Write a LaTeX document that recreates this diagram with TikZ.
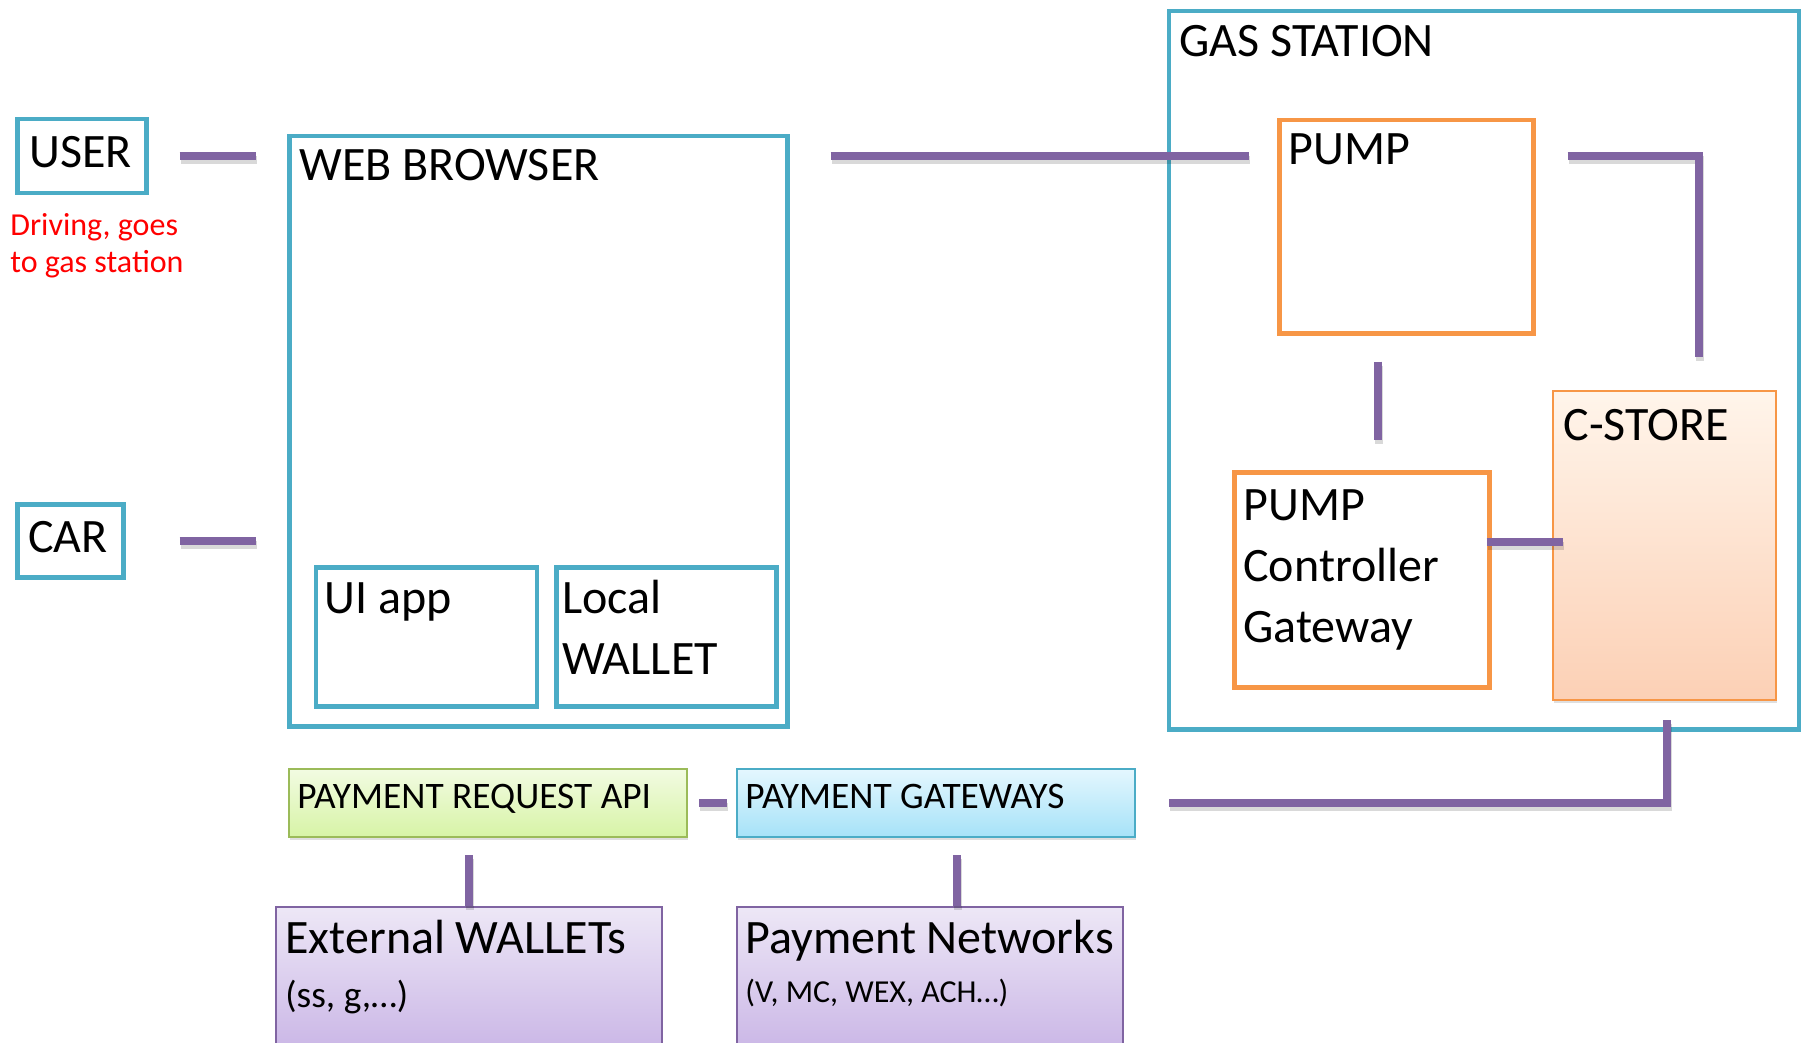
\documentclass[tikz,border=0pt]{standalone}
\usepackage{fontspec}
\setmainfont{Carlito}
\usetikzlibrary{shadows}

\definecolor{tealline}{HTML}{4BACC6}
\definecolor{orangeline}{HTML}{F79646}
\definecolor{linkpurple}{HTML}{8064A2}
\definecolor{greenline}{HTML}{9BBB59}

\tikzset{
  frame/.style={draw=tealline, line width=2.25pt, anchor=north west, inner sep=0pt},
  pumpbox/.style={draw=orangeline, line width=2.25pt, anchor=north west, inner sep=0pt},
  flatbox/.style={line width=1pt, anchor=north west, inner sep=0pt},
  boxshadow/.style={drop shadow={opacity=0.25, shadow xshift=0.5pt, shadow yshift=-1.5pt}},
  lbl/.style={anchor=base west, inner sep=0pt, align=left, font=\fontsize{24}{30.5}\selectfont},
  smalllbl/.style={lbl, font=\fontsize{18.7}{22}\selectfont},
  note/.style={lbl, text=red, font=\fontsize{16}{18}\selectfont},
  link/.style={draw=linkpurple, line width=4pt,
    preaction={draw=black, opacity=0.15, line width=4pt, transform canvas={xshift=0.5pt,yshift=-2pt}}},
}

\begin{document}
\begin{tikzpicture}[x=0.5pt,y=-0.5pt]
    \useasboundingbox (0,0) rectangle (1804,1043);
    \clip (0,0) rectangle (1804,1043);

    % left side
    \node[frame, minimum width=64.5pt, minimum height=37pt] (user) at (15,117) {};
    \node[frame, minimum width=53pt, minimum height=36.5pt] (car) at (15,502) {};
    \node[frame, minimum width=249pt, minimum height=295pt] (web) at (287,134) {};
    \node[frame, minimum width=110.5pt, minimum height=69.5pt] (uiapp) at (313.5,565) {};
    \node[frame, minimum width=110pt, minimum height=69.5pt] (wallet) at (554,565) {};

    % gas station
    \node[frame, minimum width=315pt, minimum height=359pt] (gas) at (1166.5,9) {};
    \node[pumpbox, minimum width=127pt, minimum height=106.5pt] (pump) at (1277,118) {};
    \node[pumpbox, minimum width=127.5pt, minimum height=107.5pt] (ctrl) at (1232,470) {};
    \node[flatbox, boxshadow, draw=orangeline, top color=orange!8, bottom color={rgb,255:red,252;green,208;blue,181},
          minimum width=111.5pt, minimum height=154.5pt] (cstore) at (1552,390) {};

    % payment side
    \node[flatbox, boxshadow, draw=greenline, top color={rgb,255:red,242;green,251;blue,226}, bottom color={rgb,255:red,215;green,244;blue,166},
          minimum width=199pt, minimum height=34pt] (pra) at (288,768) {};
    \node[flatbox, boxshadow, draw=tealline, top color={rgb,255:red,228;green,247;blue,254}, bottom color={rgb,255:red,166;green,226;blue,248},
          minimum width=199pt, minimum height=34pt] (pg) at (736,768) {};
    \node[flatbox, draw=linkpurple, top color={rgb,255:red,237;green,231;blue,246}, bottom color={rgb,255:red,195;green,172;blue,227},
          minimum width=193pt, minimum height=87pt] (ext) at (275,906) {};
    \node[flatbox, draw=linkpurple, top color={rgb,255:red,237;green,231;blue,246}, bottom color={rgb,255:red,195;green,172;blue,227},
          minimum width=193pt, minimum height=87pt] (pn) at (736,906) {};

    % labels
    \node[lbl] (usertxt) at (29,168) {USER};
    \node[note] (usernote) at (10,272) {Driving, goes\\to gas station};
    \node[lbl] (cartxt) at (28,552) {CAR};
    \node[lbl] (webtxt) at (299,181) {WEB BROWSER};
    \node[lbl] (uitxt) at (324,613) {UI app};
    \node[lbl] (wallettxt) at (562,674) {Local\\WALLET};
    \node[lbl] (gastxt) at (1179,57) {GAS STATION};
    \node[lbl] (pumptxt) at (1288,165) {PUMP};
    \node[lbl] (ctrltxt) at (1243,642) {PUMP\\Controller\\Gateway};
    \node[lbl] (cstoretxt) at (1563,440) {C-STORE};
    \node[smalllbl] (pratxt) at (297,808) {PAYMENT REQUEST API};
    \node[smalllbl] (pgtxt) at (745,808) {PAYMENT GATEWAYS};
    \node[lbl] (exttxt) at (285,953) {External WALLETs};
    \node[smalllbl] (extsub) at (285,1007) {(ss, g,…)};
    \node[lbl] (pntxt) at (745,953) {Payment Networks};
    \node[lbl, font=\fontsize{16}{18}\selectfont] (pnsub) at (745,1002) {(V, MC, WEX, ACH…)};

    % connectors
    \draw[link] ([xshift=15.5pt]user.east) -- ([xshift=-15.5pt]user.east -| web.west);
    \draw[link] ([xshift=27pt]car.east) -- ([xshift=-15.5pt]car.east -| web.west);
    \draw[link] ([xshift=20.5pt]user.east -| web.east) -- ([xshift=-14pt]user.east -| pump.west);
    \draw[link] ([xshift=16pt]user.east -| pump.east) -| ([xshift=17.25pt,yshift=16.5pt]cstore.north);
    \draw[link] ([xshift=-14.25pt,yshift=-13pt]pump.south) -- ([xshift=-14.25pt,yshift=15pt]pump.south |- ctrl.north);
    \draw[link] ([xshift=-2.5pt,yshift=19pt]ctrl.east) -- ([xshift=5.5pt,yshift=19pt]ctrl.east -| cstore.west);
    \draw[link] ([xshift=1.25pt,yshift=-9.5pt]cstore.south) |- ([xshift=16.5pt]pg.east);
    \draw[link] ([xshift=5.5pt]pra.east) -- ([xshift=-4.5pt]pg.west);
    \draw[link] ([yshift=-8.5pt]pra.south -| ext.north) -- (ext.north);
    \draw[link] ([xshift=10.5pt,yshift=-8.5pt]pg.south) -- ([xshift=10.5pt]pg.south |- pn.north);
\end{tikzpicture}
\end{document}
